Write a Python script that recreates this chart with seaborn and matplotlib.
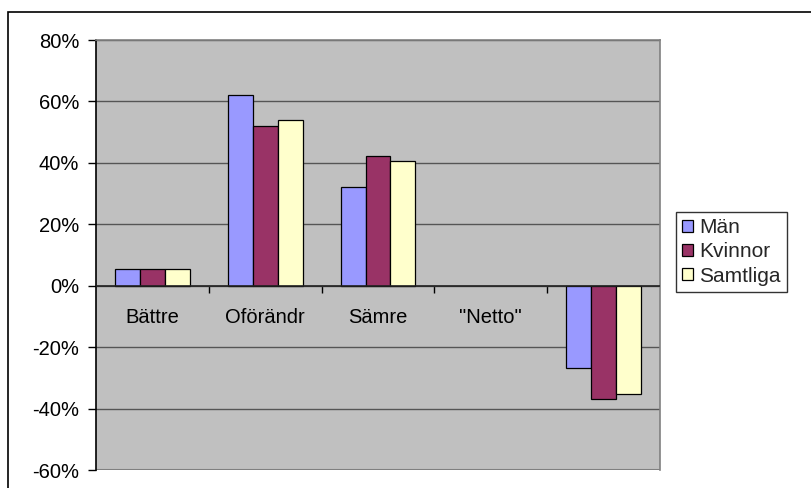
import numpy as np
import pandas as pd
import matplotlib
matplotlib.use("Agg")
import matplotlib.pyplot as plt
import seaborn as sns
from matplotlib.patches import Rectangle

categories = ["Bättre", "Oförändr", "Sämre", "\"Netto\"", ""]
man = [5.5, 62.2, 32.2, np.nan, -26.8]
kvinnor = [5.5, 52.1, 42.3, np.nan, -36.8]
samtliga = [5.5, 54.0, 40.7, np.nan, -35.2]
series = ["Män", "Kvinnor", "Samtliga"]
colors = ["#9999FF", "#993366", "#FFFFCC"]
yticks = [-60, -40, -20, 0, 20, 40, 60, 80]

cat_keys = [f"c{i}" for i in range(len(categories))]
df = pd.DataFrame({
    "cat": cat_keys * 3,
    "serie": np.repeat(series, len(categories)),
    "val": man + kvinnor + samtliga,
})

sns.set_theme(style="white")
plt.rcParams["font.family"] = ["Liberation Sans", "DejaVu Sans"]
FS = 14.5

fig = plt.figure(figsize=(8.11, 4.88), dpi=100)
ax = fig.add_axes([96/811, 18/488, 564/811, 430/488])
ax.set_facecolor("#C0C0C0")

sns.barplot(data=df, x="cat", y="val", hue="serie", order=cat_keys,
            hue_order=series, palette=colors, saturation=1, width=0.664, gap=0,
            edgecolor="black", linewidth=0.9, ax=ax, legend=True, zorder=3)

ax.set_ylim(-60, 80)
ax.set_xlim(-0.5, len(categories) - 0.5)
ax.set_yticks(yticks)
ax.set_yticklabels([f"{v}%" for v in yticks])
for v in yticks:
    ax.axhline(v, color="#555555", lw=1.0, zorder=1)
ax.axhline(0, color="#222222", lw=1.2, zorder=4)

ax.set_xticks(range(len(categories)))
ax.set_xticklabels(categories)
ax.set_xticks(np.arange(0.5, len(categories) - 0.5, 1), minor=True)
ax.spines["bottom"].set_position(("data", 0))
ax.spines["bottom"].set_visible(False)
ax.tick_params(axis="x", which="major", length=0, pad=16, labelsize=FS, labelcolor="black")
ax.tick_params(axis="x", which="minor", bottom=True, length=5, width=1, color="black", direction="out")
ax.tick_params(axis="y", which="major", left=True, length=6, width=1, color="black",
               direction="out", pad=6, labelsize=FS, labelcolor="black")
ax.set_xlabel("")
ax.set_ylabel("")

for s in ["top", "right"]:
    ax.spines[s].set_color("#808080")
    ax.spines[s].set_linewidth(1.2)
ax.spines["left"].set_color("black")
ax.spines["left"].set_linewidth(1.2)
ax.axhline(-60, color="#808080", lw=1.5, zorder=2)

handles, labels = ax.get_legend_handles_labels()
leg = ax.legend(handles, labels, loc="upper left", bbox_to_anchor=(676/811, (488-212)/488),
                bbox_transform=fig.transFigure, frameon=True, fancybox=False,
                edgecolor="black", fontsize=FS + 0.5, handlelength=0.5, handleheight=0.5,
                handletextpad=0.3, borderpad=0.3, labelspacing=0.25, borderaxespad=0)
leg.get_frame().set_linewidth(1.0)

fig.patches.append(Rectangle((8/811, -0.1), 1.2, (488-12)/488 + 0.1, transform=fig.transFigure,
                             fill=False, edgecolor="black", lw=1.2))

fig.savefig("out.png", dpi=100, facecolor="white")
